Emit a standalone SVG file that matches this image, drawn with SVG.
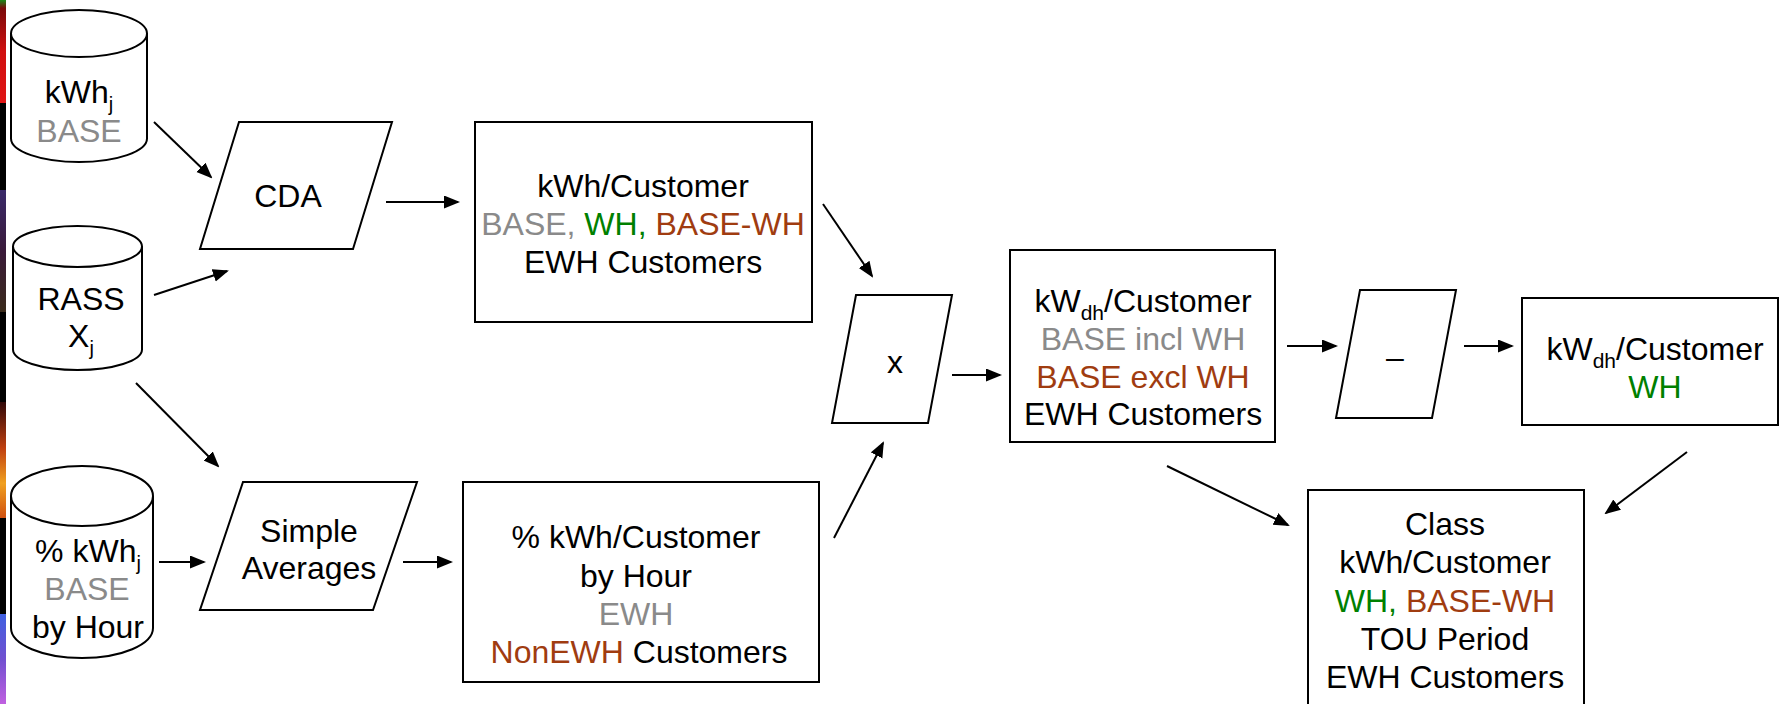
<svg xmlns="http://www.w3.org/2000/svg" width="1779" height="704" viewBox="0 0 1779 704">
<style>
.t{font-family:"Liberation Sans",Arial,sans-serif;font-size:32px;fill:#000;text-anchor:middle}
.g{fill:#8a8a8a}
.gr{fill:#008000}
.br{fill:#a03c10}
.sh{fill:#fff;stroke:#000;stroke-width:2}
.c line{stroke:#000;stroke-width:2;marker-end:url(#ah)}
</style>
<defs>
<marker id="ah" markerUnits="userSpaceOnUse" markerWidth="16" markerHeight="14" refX="14" refY="6.5" orient="auto">
<path d="M0,0 L16,6.5 L0,13 z" fill="#000"/>
</marker>
<linearGradient id="s1" x1="0" y1="0" x2="0" y2="1"><stop offset="0" stop-color="#1a8a1a"/><stop offset="0.08" stop-color="#7a0a0a"/><stop offset="0.5" stop-color="#d01010"/><stop offset="1" stop-color="#e01515"/></linearGradient>
<linearGradient id="s2" x1="0" y1="0" x2="0" y2="1"><stop offset="0" stop-color="#3a2a6a"/><stop offset="0.5" stop-color="#3a1a3a"/><stop offset="1" stop-color="#3a2a1a"/></linearGradient>
<linearGradient id="s3" x1="0" y1="0" x2="0" y2="1"><stop offset="0" stop-color="#300808"/><stop offset="0.4" stop-color="#c04010"/><stop offset="0.7" stop-color="#f0a020"/><stop offset="1" stop-color="#d05010"/></linearGradient>
<linearGradient id="s4" x1="0" y1="0" x2="0" y2="1"><stop offset="0" stop-color="#4060e0"/><stop offset="0.5" stop-color="#7050d0"/><stop offset="1" stop-color="#c060e0"/></linearGradient>
</defs>
<rect width="1779" height="704" fill="#fff"/>
<g id="edge-strip">
<rect x="0" y="0" width="6" height="704" fill="#000"/>
<rect x="0" y="0" width="6" height="103" fill="url(#s1)"/>
<rect x="0" y="190" width="6" height="122" fill="url(#s2)"/>
<rect x="0" y="402" width="6" height="116" fill="url(#s3)"/>
<rect x="0" y="614" width="6" height="90" fill="url(#s4)"/>
</g>
<g id="cyl-kwh">
<path class="sh" d="M11,33.5 V138.5 A68,23.5 0 0 0 147,138.5 V33.5 A68,23.5 0 0 0 11,33.5 Z M11,33.5 A68,23.5 0 0 0 147,33.5"/>
<text class="t" x="79" y="103">kWh<tspan font-size="20" dy="8">j</tspan></text>
<text class="t g" x="79" y="142">BASE</text>
</g>
<g id="cyl-rass">
<path class="sh" d="M13,246.5 V349.5 A64.5,20.5 0 0 0 142,349.5 V246.5 A64.5,20.5 0 0 0 13,246.5 Z M13,246.5 A64.5,20.5 0 0 0 142,246.5"/>
<text class="t" x="81" y="310">RASS</text>
<text class="t" x="81" y="347">X<tspan font-size="20" dy="8">j</tspan></text>
</g>
<g id="cyl-pct">
<path class="sh" d="M11,496 V628 A71,30 0 0 0 153,628 V496 A71,30 0 0 0 11,496 Z M11,496 A71,30 0 0 0 153,496"/>
<text class="t" x="88" y="562">% kWh<tspan font-size="20" dy="8">j</tspan></text>
<text class="t g" x="87" y="600">BASE</text>
<text class="t" x="88" y="638">by Hour</text>
</g>
<g id="cda">
<polygon class="sh" points="239,122 392,122 353,249 200,249"/>
<text class="t" x="288" y="207">CDA</text>
</g>
<g id="simple-avg">
<polygon class="sh" points="243,482 417,482 373,610 200,610"/>
<text class="t" x="309" y="542">Simple</text>
<text class="t" x="309" y="579">Averages</text>
</g>
<g id="box-kwh">
<rect class="sh" x="475" y="122" width="337" height="200"/>
<text class="t" x="643" y="197">kWh/Customer</text>
<text class="t" x="643" y="235"><tspan class="g">BASE, </tspan><tspan class="gr">WH, </tspan><tspan class="br">BASE-WH</tspan></text>
<text class="t" x="643" y="273">EWH Customers</text>
</g>
<g id="box-pct">
<rect class="sh" x="463" y="482" width="356" height="200"/>
<text class="t" x="636" y="548">% kWh/Customer</text>
<text class="t" x="636" y="587">by Hour</text>
<text class="t g" x="636" y="625">EWH</text>
<text class="t" x="639" y="663"><tspan class="br">NonEWH</tspan> Customers</text>
</g>
<g id="mult">
<polygon class="sh" points="856,295 952,295 928,423 832,423"/>
<text class="t" x="895" y="373">x</text>
</g>
<g id="box-kwdh">
<rect class="sh" x="1010" y="250" width="265" height="192"/>
<text class="t" x="1143" y="312">kW<tspan font-size="21" dy="8">dh</tspan><tspan dy="-8">/Customer</tspan></text>
<text class="t g" x="1143" y="350">BASE incl WH</text>
<text class="t br" x="1143" y="388">BASE excl WH</text>
<text class="t" x="1143" y="425">EWH Customers</text>
</g>
<g id="minus">
<polygon class="sh" points="1360,290 1456,290 1432,418 1336,418"/>
<text class="t" x="1395" y="368" font-size="38">–</text>
</g>
<g id="box-wh">
<rect class="sh" x="1522" y="298" width="256" height="127"/>
<text class="t" x="1655" y="360">kW<tspan font-size="21" dy="8">dh</tspan><tspan dy="-8">/Customer</tspan></text>
<text class="t gr" x="1655" y="398">WH</text>
</g>
<g id="box-class">
<rect class="sh" x="1308" y="490" width="276" height="220"/>
<text class="t" x="1445" y="535">Class</text>
<text class="t" x="1445" y="573">kWh/Customer</text>
<text class="t" x="1445" y="612"><tspan class="gr">WH, </tspan><tspan class="br">BASE-WH</tspan></text>
<text class="t" x="1445" y="650">TOU Period</text>
<text class="t" x="1445" y="688">EWH Customers</text>
</g>
<g id="connectors" class="c">
<line x1="154" y1="122" x2="211" y2="177"/>
<line x1="154" y1="295" x2="227" y2="271"/>
<line x1="136" y1="383" x2="218" y2="466"/>
<line x1="159" y1="562" x2="204" y2="562"/>
<line x1="386" y1="202" x2="458" y2="202"/>
<line x1="403" y1="562" x2="451" y2="562"/>
<line x1="823" y1="204" x2="872" y2="276"/>
<line x1="834" y1="538" x2="883" y2="443"/>
<line x1="952" y1="375" x2="1000" y2="375"/>
<line x1="1287" y1="346" x2="1336" y2="346"/>
<line x1="1464" y1="346" x2="1512" y2="346"/>
<line x1="1687" y1="452" x2="1606" y2="513"/>
<line x1="1167" y1="466" x2="1288" y2="525"/>
</g>
</svg>
